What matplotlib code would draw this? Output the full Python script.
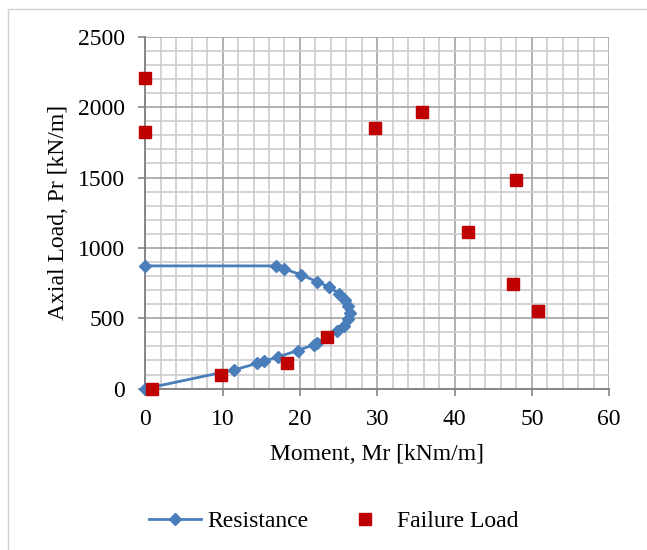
import matplotlib
matplotlib.use("Agg")
import matplotlib.pyplot as plt
from matplotlib.patches import Rectangle
from matplotlib.ticker import MultipleLocator

# Interaction diagram (resistance) and tested failure loads
resistance_moment = [0, 11.5, 14.5, 15.4, 17.2, 19.7, 21.8, 22.2, 24.8, 25.7, 26.2,
                     26.5, 26.2, 25.8, 25.0, 23.8, 22.2, 20.2, 18.0, 16.9, 0]
resistance_axial = [0, 133, 180, 196, 226, 270, 312, 326, 407, 448, 492,
                    540, 588, 630, 675, 722, 760, 808, 850, 872, 872]

failure_moment = [0, 0, 29.7, 35.8, 48.0, 41.8, 47.5, 50.8, 23.5, 18.3, 9.8, 0.9]
failure_axial = [2210, 1820, 1850, 1965, 1483, 1111, 741, 555, 370, 185, 95, 0]

x_ticks = [0, 10, 20, 30, 40, 50, 60]
y_ticks = [0, 500, 1000, 1500, 2000, 2500]

plt.rcParams['font.family'] = ['Liberation Serif', 'DejaVu Serif']
FS = 17

W, H = 647, 550
fig = plt.figure(figsize=(W / 100, H / 100), dpi=100)

# chart-area frame
fig.patches.append(Rectangle((8 / W, -0.1), 1.2, 1.1 - 9 / H, transform=fig.transFigure,
                             fill=False, edgecolor='#d0d0d0', linewidth=1.0))

left, right = 145.3 / W, 609.2 / W
top, bottom = 1 - 36.8 / H, 1 - 388.6 / H
ax = fig.add_axes([left, bottom, right - left, top - bottom])

ax.set_xlim(0, 60)
ax.set_ylim(0, 2500)
ax.set_xticks(x_ticks)
ax.set_yticks(y_ticks)
ax.xaxis.set_minor_locator(MultipleLocator(2))
ax.yaxis.set_minor_locator(MultipleLocator(100))

ax.grid(which='minor', color='#cccccc', linewidth=1.2, zorder=0)
ax.grid(which='major', color='#a3a3a3', linewidth=1.2, zorder=0)
ax.set_axisbelow(True)

for s in ['top', 'right']:
    ax.spines[s].set_visible(False)
for s in ['left', 'bottom']:
    ax.spines[s].set_color('#858585')
    ax.spines[s].set_linewidth(1.4)

ax.tick_params(which='major', direction='out', length=5, width=1.2, color='#858585',
               labelsize=FS, pad=9.5)
ax.tick_params(which='minor', length=0)

ax.plot(resistance_moment, resistance_axial, color='#4a7ebb', linewidth=2.0,
        marker='D', markersize=6.3, markerfacecolor='#4a7ebb', markeredgecolor='#4a7ebb',
        label='Resistance', zorder=3, clip_on=False)
ax.plot(failure_moment, failure_axial, linestyle='none', marker='s', markersize=8.3,
        markerfacecolor='#c00000', markeredgecolor='#c00000', label='Failure Load',
        zorder=4, clip_on=False)

ax.set_xlabel('Moment, Mr [kNm/m]', fontsize=FS, labelpad=10.5)
ax.set_ylabel('Axial Load, Pr [kN/m]', fontsize=FS, labelpad=6.5)

fig.legend(loc='center', bbox_to_anchor=(334 / W, 1 - 521 / H), ncol=2, frameon=False,
           fontsize=FS, handlelength=2.2, handletextpad=0.25, columnspacing=1.3,
           borderpad=0, borderaxespad=0)

fig.savefig('out.png', dpi=100, facecolor='white')
